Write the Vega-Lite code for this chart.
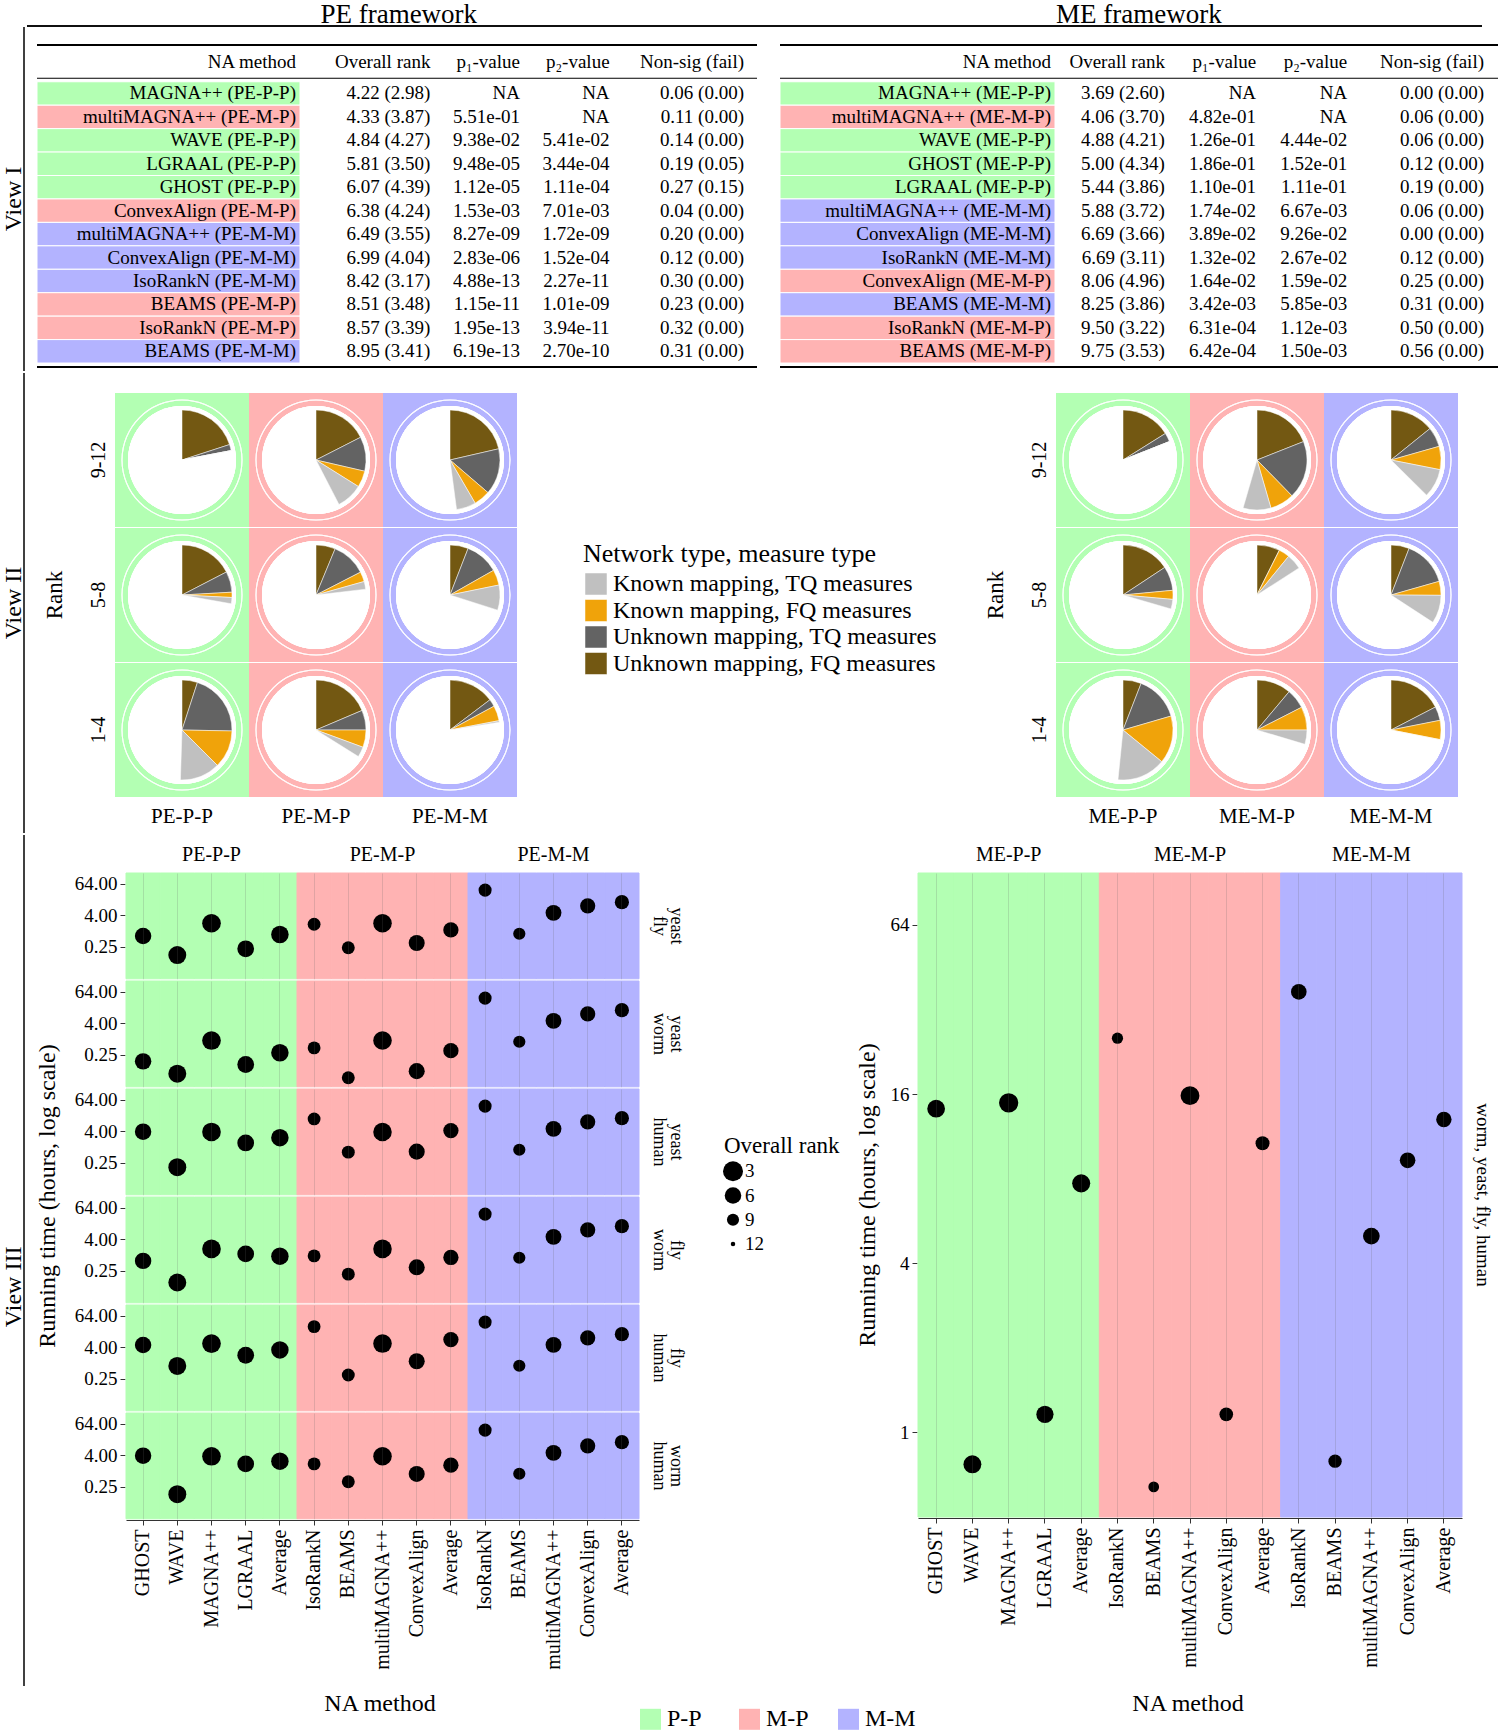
{
  "$schema": "https://vega.github.io/schema/vega-lite/v6.json",
  "padding": 0,
  "spacing": 0,
  "config": {
    "font": "Liberation Serif",
    "view": {"stroke": null},
    "axis": {"labelColor": "black", "titleColor": "black", "titleFontWeight": "normal", "tickColor": "#333", "domainColor": "#333"},
    "header": {"labelColor": "black", "titleColor": "black", "titleFontWeight": "normal"}
  },
  "datasets": {
    "pe_tab": [
      {"m": "MAGNA++ (PE-P-P)", "t": "P-P", "r": "4.22 (2.98)", "p1": "NA", "p2": "NA", "ns": "0.06 (0.00)"},
      {"m": "multiMAGNA++ (PE-M-P)", "t": "M-P", "r": "4.33 (3.87)", "p1": "5.51e-01", "p2": "NA", "ns": "0.11 (0.00)"},
      {"m": "WAVE (PE-P-P)", "t": "P-P", "r": "4.84 (4.27)", "p1": "9.38e-02", "p2": "5.41e-02", "ns": "0.14 (0.00)"},
      {"m": "LGRAAL (PE-P-P)", "t": "P-P", "r": "5.81 (3.50)", "p1": "9.48e-05", "p2": "3.44e-04", "ns": "0.19 (0.05)"},
      {"m": "GHOST (PE-P-P)", "t": "P-P", "r": "6.07 (4.39)", "p1": "1.12e-05", "p2": "1.11e-04", "ns": "0.27 (0.15)"},
      {"m": "ConvexAlign (PE-M-P)", "t": "M-P", "r": "6.38 (4.24)", "p1": "1.53e-03", "p2": "7.01e-03", "ns": "0.04 (0.00)"},
      {"m": "multiMAGNA++ (PE-M-M)", "t": "M-M", "r": "6.49 (3.55)", "p1": "8.27e-09", "p2": "1.72e-09", "ns": "0.20 (0.00)"},
      {"m": "ConvexAlign (PE-M-M)", "t": "M-M", "r": "6.99 (4.04)", "p1": "2.83e-06", "p2": "1.52e-04", "ns": "0.12 (0.00)"},
      {"m": "IsoRankN (PE-M-M)", "t": "M-M", "r": "8.42 (3.17)", "p1": "4.88e-13", "p2": "2.27e-11", "ns": "0.30 (0.00)"},
      {"m": "BEAMS (PE-M-P)", "t": "M-P", "r": "8.51 (3.48)", "p1": "1.15e-11", "p2": "1.01e-09", "ns": "0.23 (0.00)"},
      {"m": "IsoRankN (PE-M-P)", "t": "M-P", "r": "8.57 (3.39)", "p1": "1.95e-13", "p2": "3.94e-11", "ns": "0.32 (0.00)"},
      {"m": "BEAMS (PE-M-M)", "t": "M-M", "r": "8.95 (3.41)", "p1": "6.19e-13", "p2": "2.70e-10", "ns": "0.31 (0.00)"}
    ],
    "me_tab": [
      {"m": "MAGNA++ (ME-P-P)", "t": "P-P", "r": "3.69 (2.60)", "p1": "NA", "p2": "NA", "ns": "0.00 (0.00)"},
      {"m": "multiMAGNA++ (ME-M-P)", "t": "M-P", "r": "4.06 (3.70)", "p1": "4.82e-01", "p2": "NA", "ns": "0.06 (0.00)"},
      {"m": "WAVE (ME-P-P)", "t": "P-P", "r": "4.88 (4.21)", "p1": "1.26e-01", "p2": "4.44e-02", "ns": "0.06 (0.00)"},
      {"m": "GHOST (ME-P-P)", "t": "P-P", "r": "5.00 (4.34)", "p1": "1.86e-01", "p2": "1.52e-01", "ns": "0.12 (0.00)"},
      {"m": "LGRAAL (ME-P-P)", "t": "P-P", "r": "5.44 (3.86)", "p1": "1.10e-01", "p2": "1.11e-01", "ns": "0.19 (0.00)"},
      {"m": "multiMAGNA++ (ME-M-M)", "t": "M-M", "r": "5.88 (3.72)", "p1": "1.74e-02", "p2": "6.67e-03", "ns": "0.06 (0.00)"},
      {"m": "ConvexAlign (ME-M-M)", "t": "M-M", "r": "6.69 (3.66)", "p1": "3.89e-02", "p2": "9.26e-02", "ns": "0.00 (0.00)"},
      {"m": "IsoRankN (ME-M-M)", "t": "M-M", "r": "6.69 (3.11)", "p1": "1.32e-02", "p2": "2.67e-02", "ns": "0.12 (0.00)"},
      {"m": "ConvexAlign (ME-M-P)", "t": "M-P", "r": "8.06 (4.96)", "p1": "1.64e-02", "p2": "1.59e-02", "ns": "0.25 (0.00)"},
      {"m": "BEAMS (ME-M-M)", "t": "M-M", "r": "8.25 (3.86)", "p1": "3.42e-03", "p2": "5.85e-03", "ns": "0.31 (0.00)"},
      {"m": "IsoRankN (ME-M-P)", "t": "M-P", "r": "9.50 (3.22)", "p1": "6.31e-04", "p2": "1.12e-03", "ns": "0.50 (0.00)"},
      {"m": "BEAMS (ME-M-P)", "t": "M-P", "r": "9.75 (3.53)", "p1": "6.42e-04", "p2": "1.50e-03", "ns": "0.56 (0.00)"}
    ],
    "pe_pie": [
      {"nt": "PE-P-P", "t": "P-P", "rk": "9-12", "c": "Unknown mapping, FQ measures", "o": 1, "v": 0.2},
      {"nt": "PE-P-P", "t": "P-P", "rk": "9-12", "c": "Unknown mapping, TQ measures", "o": 2, "v": 0.02},
      {"nt": "PE-P-P", "t": "P-P", "rk": "9-12", "c": "Known mapping, FQ measures", "o": 3, "v": 0},
      {"nt": "PE-P-P", "t": "P-P", "rk": "9-12", "c": "Known mapping, TQ measures", "o": 4, "v": 0},
      {"nt": "PE-M-P", "t": "M-P", "rk": "9-12", "c": "Unknown mapping, FQ measures", "o": 1, "v": 0.175},
      {"nt": "PE-M-P", "t": "M-P", "rk": "9-12", "c": "Unknown mapping, TQ measures", "o": 2, "v": 0.111},
      {"nt": "PE-M-P", "t": "M-P", "rk": "9-12", "c": "Known mapping, FQ measures", "o": 3, "v": 0.053},
      {"nt": "PE-M-P", "t": "M-P", "rk": "9-12", "c": "Known mapping, TQ measures", "o": 4, "v": 0.085},
      {"nt": "PE-M-M", "t": "M-M", "rk": "9-12", "c": "Unknown mapping, FQ measures", "o": 1, "v": 0.214},
      {"nt": "PE-M-M", "t": "M-M", "rk": "9-12", "c": "Unknown mapping, TQ measures", "o": 2, "v": 0.149},
      {"nt": "PE-M-M", "t": "M-M", "rk": "9-12", "c": "Known mapping, FQ measures", "o": 3, "v": 0.053},
      {"nt": "PE-M-M", "t": "M-M", "rk": "9-12", "c": "Known mapping, TQ measures", "o": 4, "v": 0.063},
      {"nt": "PE-P-P", "t": "P-P", "rk": "5-8", "c": "Unknown mapping, FQ measures", "o": 1, "v": 0.174},
      {"nt": "PE-P-P", "t": "P-P", "rk": "5-8", "c": "Unknown mapping, TQ measures", "o": 2, "v": 0.067},
      {"nt": "PE-P-P", "t": "P-P", "rk": "5-8", "c": "Known mapping, FQ measures", "o": 3, "v": 0.017},
      {"nt": "PE-P-P", "t": "P-P", "rk": "5-8", "c": "Known mapping, TQ measures", "o": 4, "v": 0.02},
      {"nt": "PE-M-P", "t": "M-P", "rk": "5-8", "c": "Unknown mapping, FQ measures", "o": 1, "v": 0.0625},
      {"nt": "PE-M-P", "t": "M-P", "rk": "5-8", "c": "Unknown mapping, TQ measures", "o": 2, "v": 0.112},
      {"nt": "PE-M-P", "t": "M-P", "rk": "5-8", "c": "Known mapping, FQ measures", "o": 3, "v": 0.032},
      {"nt": "PE-M-P", "t": "M-P", "rk": "5-8", "c": "Known mapping, TQ measures", "o": 4, "v": 0.025},
      {"nt": "PE-M-M", "t": "M-M", "rk": "5-8", "c": "Unknown mapping, FQ measures", "o": 1, "v": 0.059},
      {"nt": "PE-M-M", "t": "M-M", "rk": "5-8", "c": "Unknown mapping, TQ measures", "o": 2, "v": 0.109},
      {"nt": "PE-M-M", "t": "M-M", "rk": "5-8", "c": "Known mapping, FQ measures", "o": 3, "v": 0.05},
      {"nt": "PE-M-M", "t": "M-M", "rk": "5-8", "c": "Known mapping, TQ measures", "o": 4, "v": 0.081},
      {"nt": "PE-P-P", "t": "P-P", "rk": "1-4", "c": "Unknown mapping, FQ measures", "o": 1, "v": 0.05},
      {"nt": "PE-P-P", "t": "P-P", "rk": "1-4", "c": "Unknown mapping, TQ measures", "o": 2, "v": 0.203},
      {"nt": "PE-P-P", "t": "P-P", "rk": "1-4", "c": "Known mapping, FQ measures", "o": 3, "v": 0.122},
      {"nt": "PE-P-P", "t": "P-P", "rk": "1-4", "c": "Known mapping, TQ measures", "o": 4, "v": 0.13},
      {"nt": "PE-M-P", "t": "M-P", "rk": "1-4", "c": "Unknown mapping, FQ measures", "o": 1, "v": 0.186},
      {"nt": "PE-M-P", "t": "M-P", "rk": "1-4", "c": "Unknown mapping, TQ measures", "o": 2, "v": 0.064},
      {"nt": "PE-M-P", "t": "M-P", "rk": "1-4", "c": "Known mapping, FQ measures", "o": 3, "v": 0.056},
      {"nt": "PE-M-P", "t": "M-P", "rk": "1-4", "c": "Known mapping, TQ measures", "o": 4, "v": 0.033},
      {"nt": "PE-M-M", "t": "M-M", "rk": "1-4", "c": "Unknown mapping, FQ measures", "o": 1, "v": 0.147},
      {"nt": "PE-M-M", "t": "M-M", "rk": "1-4", "c": "Unknown mapping, TQ measures", "o": 2, "v": 0.024},
      {"nt": "PE-M-M", "t": "M-M", "rk": "1-4", "c": "Known mapping, FQ measures", "o": 3, "v": 0.049},
      {"nt": "PE-M-M", "t": "M-M", "rk": "1-4", "c": "Known mapping, TQ measures", "o": 4, "v": 0.005}
    ],
    "me_pie": [
      {"nt": "ME-P-P", "t": "P-P", "rk": "9-12", "c": "Unknown mapping, FQ measures", "o": 1, "v": 0.161},
      {"nt": "ME-P-P", "t": "P-P", "rk": "9-12", "c": "Unknown mapping, TQ measures", "o": 2, "v": 0.029},
      {"nt": "ME-P-P", "t": "P-P", "rk": "9-12", "c": "Known mapping, FQ measures", "o": 3, "v": 0},
      {"nt": "ME-P-P", "t": "P-P", "rk": "9-12", "c": "Known mapping, TQ measures", "o": 4, "v": 0},
      {"nt": "ME-M-P", "t": "M-P", "rk": "9-12", "c": "Unknown mapping, FQ measures", "o": 1, "v": 0.19},
      {"nt": "ME-M-P", "t": "M-P", "rk": "9-12", "c": "Unknown mapping, TQ measures", "o": 2, "v": 0.187},
      {"nt": "ME-M-P", "t": "M-P", "rk": "9-12", "c": "Known mapping, FQ measures", "o": 3, "v": 0.078},
      {"nt": "ME-M-P", "t": "M-P", "rk": "9-12", "c": "Known mapping, TQ measures", "o": 4, "v": 0.09},
      {"nt": "ME-M-M", "t": "M-M", "rk": "9-12", "c": "Unknown mapping, FQ measures", "o": 1, "v": 0.142},
      {"nt": "ME-M-M", "t": "M-M", "rk": "9-12", "c": "Unknown mapping, TQ measures", "o": 2, "v": 0.064},
      {"nt": "ME-M-M", "t": "M-M", "rk": "9-12", "c": "Known mapping, FQ measures", "o": 3, "v": 0.075},
      {"nt": "ME-M-M", "t": "M-M", "rk": "9-12", "c": "Known mapping, TQ measures", "o": 4, "v": 0.093},
      {"nt": "ME-P-P", "t": "P-P", "rk": "5-8", "c": "Unknown mapping, FQ measures", "o": 1, "v": 0.157},
      {"nt": "ME-P-P", "t": "P-P", "rk": "5-8", "c": "Unknown mapping, TQ measures", "o": 2, "v": 0.078},
      {"nt": "ME-P-P", "t": "P-P", "rk": "5-8", "c": "Known mapping, FQ measures", "o": 3, "v": 0.029},
      {"nt": "ME-P-P", "t": "P-P", "rk": "5-8", "c": "Known mapping, TQ measures", "o": 4, "v": 0.031},
      {"nt": "ME-M-P", "t": "M-P", "rk": "5-8", "c": "Unknown mapping, FQ measures", "o": 1, "v": 0.074},
      {"nt": "ME-M-P", "t": "M-P", "rk": "5-8", "c": "Unknown mapping, TQ measures", "o": 2, "v": 0},
      {"nt": "ME-M-P", "t": "M-P", "rk": "5-8", "c": "Known mapping, FQ measures", "o": 3, "v": 0.035},
      {"nt": "ME-M-P", "t": "M-P", "rk": "5-8", "c": "Known mapping, TQ measures", "o": 4, "v": 0.05},
      {"nt": "ME-M-M", "t": "M-M", "rk": "5-8", "c": "Unknown mapping, FQ measures", "o": 1, "v": 0.059},
      {"nt": "ME-M-M", "t": "M-M", "rk": "5-8", "c": "Unknown mapping, TQ measures", "o": 2, "v": 0.147},
      {"nt": "ME-M-M", "t": "M-M", "rk": "5-8", "c": "Known mapping, FQ measures", "o": 3, "v": 0.045},
      {"nt": "ME-M-M", "t": "M-M", "rk": "5-8", "c": "Known mapping, TQ measures", "o": 4, "v": 0.091},
      {"nt": "ME-P-P", "t": "P-P", "rk": "1-4", "c": "Unknown mapping, FQ measures", "o": 1, "v": 0.059},
      {"nt": "ME-P-P", "t": "P-P", "rk": "1-4", "c": "Unknown mapping, TQ measures", "o": 2, "v": 0.146},
      {"nt": "ME-P-P", "t": "P-P", "rk": "1-4", "c": "Known mapping, FQ measures", "o": 3, "v": 0.154},
      {"nt": "ME-P-P", "t": "P-P", "rk": "1-4", "c": "Known mapping, TQ measures", "o": 4, "v": 0.157},
      {"nt": "ME-M-P", "t": "M-P", "rk": "1-4", "c": "Unknown mapping, FQ measures", "o": 1, "v": 0.111},
      {"nt": "ME-M-P", "t": "M-P", "rk": "1-4", "c": "Unknown mapping, TQ measures", "o": 2, "v": 0.064},
      {"nt": "ME-M-P", "t": "M-P", "rk": "1-4", "c": "Known mapping, FQ measures", "o": 3, "v": 0.075},
      {"nt": "ME-M-P", "t": "M-P", "rk": "1-4", "c": "Known mapping, TQ measures", "o": 4, "v": 0.046},
      {"nt": "ME-M-M", "t": "M-M", "rk": "1-4", "c": "Unknown mapping, FQ measures", "o": 1, "v": 0.174},
      {"nt": "ME-M-M", "t": "M-M", "rk": "1-4", "c": "Unknown mapping, TQ measures", "o": 2, "v": 0.045},
      {"nt": "ME-M-M", "t": "M-M", "rk": "1-4", "c": "Known mapping, FQ measures", "o": 3, "v": 0.062},
      {"nt": "ME-M-M", "t": "M-M", "rk": "1-4", "c": "Known mapping, TQ measures", "o": 4, "v": 0}
    ],
    "pe_dot": [
      {"p": "yeast fly", "k": "P-P:GHOST", "g": "P-P", "y": 0.65, "r": 6.07},
      {"p": "yeast fly", "k": "P-P:WAVE", "g": "P-P", "y": 0.12, "r": 4.84},
      {"p": "yeast fly", "k": "P-P:MAGNA++", "g": "P-P", "y": 2.0, "r": 4.22},
      {"p": "yeast fly", "k": "P-P:LGRAAL", "g": "P-P", "y": 0.21, "r": 5.81},
      {"p": "yeast fly", "k": "P-P:Average", "g": "P-P", "y": 0.74, "r": 5.24},
      {"p": "yeast fly", "k": "M-P:IsoRankN", "g": "M-P", "y": 1.83, "r": 8.57},
      {"p": "yeast fly", "k": "M-P:BEAMS", "g": "M-P", "y": 0.23, "r": 8.51},
      {"p": "yeast fly", "k": "M-P:multiMAGNA++", "g": "M-P", "y": 2.0, "r": 4.33},
      {"p": "yeast fly", "k": "M-P:ConvexAlign", "g": "M-P", "y": 0.35, "r": 6.38},
      {"p": "yeast fly", "k": "M-P:Average", "g": "M-P", "y": 1.11, "r": 6.95},
      {"p": "yeast fly", "k": "M-M:IsoRankN", "g": "M-M", "y": 37.3, "r": 8.42},
      {"p": "yeast fly", "k": "M-M:BEAMS", "g": "M-M", "y": 0.79, "r": 8.95},
      {"p": "yeast fly", "k": "M-M:multiMAGNA++", "g": "M-M", "y": 5.0, "r": 6.49},
      {"p": "yeast fly", "k": "M-M:ConvexAlign", "g": "M-M", "y": 9.3, "r": 6.99},
      {"p": "yeast fly", "k": "M-M:Average", "g": "M-M", "y": 12.9, "r": 7.71},
      {"p": "yeast worm", "k": "P-P:GHOST", "g": "P-P", "y": 0.14, "r": 6.07},
      {"p": "yeast worm", "k": "P-P:WAVE", "g": "P-P", "y": 0.047, "r": 4.84},
      {"p": "yeast worm", "k": "P-P:MAGNA++", "g": "P-P", "y": 0.88, "r": 4.22},
      {"p": "yeast worm", "k": "P-P:LGRAAL", "g": "P-P", "y": 0.106, "r": 5.81},
      {"p": "yeast worm", "k": "P-P:Average", "g": "P-P", "y": 0.3, "r": 5.24},
      {"p": "yeast worm", "k": "M-P:IsoRankN", "g": "M-P", "y": 0.46, "r": 8.57},
      {"p": "yeast worm", "k": "M-P:BEAMS", "g": "M-P", "y": 0.033, "r": 8.51},
      {"p": "yeast worm", "k": "M-P:multiMAGNA++", "g": "M-P", "y": 0.88, "r": 4.33},
      {"p": "yeast worm", "k": "M-P:ConvexAlign", "g": "M-P", "y": 0.059, "r": 6.38},
      {"p": "yeast worm", "k": "M-P:Average", "g": "M-P", "y": 0.36, "r": 6.95},
      {"p": "yeast worm", "k": "M-M:IsoRankN", "g": "M-M", "y": 37.3, "r": 8.42},
      {"p": "yeast worm", "k": "M-M:BEAMS", "g": "M-M", "y": 0.79, "r": 8.95},
      {"p": "yeast worm", "k": "M-M:multiMAGNA++", "g": "M-M", "y": 5.0, "r": 6.49},
      {"p": "yeast worm", "k": "M-M:ConvexAlign", "g": "M-M", "y": 9.3, "r": 6.99},
      {"p": "yeast worm", "k": "M-M:Average", "g": "M-M", "y": 12.9, "r": 7.71},
      {"p": "yeast human", "k": "P-P:GHOST", "g": "P-P", "y": 3.9, "r": 6.07},
      {"p": "yeast human", "k": "P-P:WAVE", "g": "P-P", "y": 0.17, "r": 4.84},
      {"p": "yeast human", "k": "P-P:MAGNA++", "g": "P-P", "y": 3.8, "r": 4.22},
      {"p": "yeast human", "k": "P-P:LGRAAL", "g": "P-P", "y": 1.44, "r": 5.81},
      {"p": "yeast human", "k": "P-P:Average", "g": "P-P", "y": 2.3, "r": 5.24},
      {"p": "yeast human", "k": "M-P:IsoRankN", "g": "M-P", "y": 12, "r": 8.57},
      {"p": "yeast human", "k": "M-P:BEAMS", "g": "M-P", "y": 0.64, "r": 8.51},
      {"p": "yeast human", "k": "M-P:multiMAGNA++", "g": "M-P", "y": 3.8, "r": 4.33},
      {"p": "yeast human", "k": "M-P:ConvexAlign", "g": "M-P", "y": 0.67, "r": 6.38},
      {"p": "yeast human", "k": "M-P:Average", "g": "M-P", "y": 4.3, "r": 6.95},
      {"p": "yeast human", "k": "M-M:IsoRankN", "g": "M-M", "y": 37.3, "r": 8.42},
      {"p": "yeast human", "k": "M-M:BEAMS", "g": "M-M", "y": 0.79, "r": 8.95},
      {"p": "yeast human", "k": "M-M:multiMAGNA++", "g": "M-M", "y": 5.0, "r": 6.49},
      {"p": "yeast human", "k": "M-M:ConvexAlign", "g": "M-M", "y": 9.3, "r": 6.99},
      {"p": "yeast human", "k": "M-M:Average", "g": "M-M", "y": 12.9, "r": 7.71},
      {"p": "fly worm", "k": "P-P:GHOST", "g": "P-P", "y": 0.6, "r": 6.07},
      {"p": "fly worm", "k": "P-P:WAVE", "g": "P-P", "y": 0.089, "r": 4.84},
      {"p": "fly worm", "k": "P-P:MAGNA++", "g": "P-P", "y": 1.73, "r": 4.22},
      {"p": "fly worm", "k": "P-P:LGRAAL", "g": "P-P", "y": 1.11, "r": 5.81},
      {"p": "fly worm", "k": "P-P:Average", "g": "P-P", "y": 0.91, "r": 5.24},
      {"p": "fly worm", "k": "M-P:IsoRankN", "g": "M-P", "y": 0.93, "r": 8.57},
      {"p": "fly worm", "k": "M-P:BEAMS", "g": "M-P", "y": 0.186, "r": 8.51},
      {"p": "fly worm", "k": "M-P:multiMAGNA++", "g": "M-P", "y": 1.73, "r": 4.33},
      {"p": "fly worm", "k": "M-P:ConvexAlign", "g": "M-P", "y": 0.34, "r": 6.38},
      {"p": "fly worm", "k": "M-P:Average", "g": "M-P", "y": 0.81, "r": 6.95},
      {"p": "fly worm", "k": "M-M:IsoRankN", "g": "M-M", "y": 37.3, "r": 8.42},
      {"p": "fly worm", "k": "M-M:BEAMS", "g": "M-M", "y": 0.79, "r": 8.95},
      {"p": "fly worm", "k": "M-M:multiMAGNA++", "g": "M-M", "y": 5.0, "r": 6.49},
      {"p": "fly worm", "k": "M-M:ConvexAlign", "g": "M-M", "y": 9.3, "r": 6.99},
      {"p": "fly worm", "k": "M-M:Average", "g": "M-M", "y": 12.9, "r": 7.71},
      {"p": "fly human", "k": "P-P:GHOST", "g": "P-P", "y": 4.96, "r": 6.07},
      {"p": "fly human", "k": "P-P:WAVE", "g": "P-P", "y": 0.78, "r": 4.84},
      {"p": "fly human", "k": "P-P:MAGNA++", "g": "P-P", "y": 5.6, "r": 4.22},
      {"p": "fly human", "k": "P-P:LGRAAL", "g": "P-P", "y": 2.0, "r": 5.81},
      {"p": "fly human", "k": "P-P:Average", "g": "P-P", "y": 3.2, "r": 5.24},
      {"p": "fly human", "k": "M-P:IsoRankN", "g": "M-P", "y": 25, "r": 8.57},
      {"p": "fly human", "k": "M-P:BEAMS", "g": "M-P", "y": 0.35, "r": 8.51},
      {"p": "fly human", "k": "M-P:multiMAGNA++", "g": "M-P", "y": 5.6, "r": 4.33},
      {"p": "fly human", "k": "M-P:ConvexAlign", "g": "M-P", "y": 1.18, "r": 6.38},
      {"p": "fly human", "k": "M-P:Average", "g": "M-P", "y": 8.0, "r": 6.95},
      {"p": "fly human", "k": "M-M:IsoRankN", "g": "M-M", "y": 37.3, "r": 8.42},
      {"p": "fly human", "k": "M-M:BEAMS", "g": "M-M", "y": 0.79, "r": 8.95},
      {"p": "fly human", "k": "M-M:multiMAGNA++", "g": "M-M", "y": 5.0, "r": 6.49},
      {"p": "fly human", "k": "M-M:ConvexAlign", "g": "M-M", "y": 9.3, "r": 6.99},
      {"p": "fly human", "k": "M-M:Average", "g": "M-M", "y": 12.9, "r": 7.71},
      {"p": "worm human", "k": "P-P:GHOST", "g": "P-P", "y": 3.9, "r": 6.07},
      {"p": "worm human", "k": "P-P:WAVE", "g": "P-P", "y": 0.13, "r": 4.84},
      {"p": "worm human", "k": "P-P:MAGNA++", "g": "P-P", "y": 3.7, "r": 4.22},
      {"p": "worm human", "k": "P-P:LGRAAL", "g": "P-P", "y": 1.89, "r": 5.81},
      {"p": "worm human", "k": "P-P:Average", "g": "P-P", "y": 2.4, "r": 5.24},
      {"p": "worm human", "k": "M-P:IsoRankN", "g": "M-P", "y": 1.89, "r": 8.57},
      {"p": "worm human", "k": "M-P:BEAMS", "g": "M-P", "y": 0.39, "r": 8.51},
      {"p": "worm human", "k": "M-P:multiMAGNA++", "g": "M-P", "y": 3.7, "r": 4.33},
      {"p": "worm human", "k": "M-P:ConvexAlign", "g": "M-P", "y": 0.78, "r": 6.38},
      {"p": "worm human", "k": "M-P:Average", "g": "M-P", "y": 1.68, "r": 6.95},
      {"p": "worm human", "k": "M-M:IsoRankN", "g": "M-M", "y": 37.3, "r": 8.42},
      {"p": "worm human", "k": "M-M:BEAMS", "g": "M-M", "y": 0.79, "r": 8.95},
      {"p": "worm human", "k": "M-M:multiMAGNA++", "g": "M-M", "y": 5.0, "r": 6.49},
      {"p": "worm human", "k": "M-M:ConvexAlign", "g": "M-M", "y": 9.3, "r": 6.99},
      {"p": "worm human", "k": "M-M:Average", "g": "M-M", "y": 12.9, "r": 7.71}
    ],
    "me_dot": [
      {"p": "worm, yeast, fly, human", "k": "P-P:GHOST", "g": "P-P", "y": 14.2, "r": 5.0},
      {"p": "worm, yeast, fly, human", "k": "P-P:WAVE", "g": "P-P", "y": 0.77, "r": 4.88},
      {"p": "worm, yeast, fly, human", "k": "P-P:MAGNA++", "g": "P-P", "y": 14.9, "r": 3.69},
      {"p": "worm, yeast, fly, human", "k": "P-P:LGRAAL", "g": "P-P", "y": 1.16, "r": 5.44},
      {"p": "worm, yeast, fly, human", "k": "P-P:Average", "g": "P-P", "y": 7.7, "r": 4.75},
      {"p": "worm, yeast, fly, human", "k": "M-P:IsoRankN", "g": "M-P", "y": 25.3, "r": 9.5},
      {"p": "worm, yeast, fly, human", "k": "M-P:BEAMS", "g": "M-P", "y": 0.64, "r": 9.75},
      {"p": "worm, yeast, fly, human", "k": "M-P:multiMAGNA++", "g": "M-P", "y": 15.8, "r": 4.06},
      {"p": "worm, yeast, fly, human", "k": "M-P:ConvexAlign", "g": "M-P", "y": 1.16, "r": 8.06},
      {"p": "worm, yeast, fly, human", "k": "M-P:Average", "g": "M-P", "y": 10.7, "r": 7.84},
      {"p": "worm, yeast, fly, human", "k": "M-M:IsoRankN", "g": "M-M", "y": 37, "r": 6.69},
      {"p": "worm, yeast, fly, human", "k": "M-M:BEAMS", "g": "M-M", "y": 0.79, "r": 8.25},
      {"p": "worm, yeast, fly, human", "k": "M-M:multiMAGNA++", "g": "M-M", "y": 5.0, "r": 5.88},
      {"p": "worm, yeast, fly, human", "k": "M-M:ConvexAlign", "g": "M-M", "y": 9.3, "r": 6.69},
      {"p": "worm, yeast, fly, human", "k": "M-M:Average", "g": "M-M", "y": 13, "r": 6.88}
    ]
  },
  "hconcat": [
    {
      "spacing": 0,
      "vconcat": [
        {"width": 24, "height": 26, "data": {"values": [{}]}, "mark": {"type": "text", "text": ""}, "encoding": {}},
        {"width": 24, "height": 344, "data": {"values": [{"v": "View I"}]},
         "layer": [
           {"mark": {"type": "rule", "color": "black", "strokeWidth": 1.5}, "encoding": {"x": {"value": "width"}}},
           {"mark": {"type": "text", "angle": 270, "fontSize": 24, "baseline": "middle", "align": "center", "dy": 1.5}, "encoding": {"text": {"field": "v"}}}
         ]},
        {"width": 24, "height": 460, "data": {"values": [{"v": "View II"}]},
         "layer": [
           {"mark": {"type": "rule", "color": "black", "strokeWidth": 1.5}, "encoding": {"x": {"value": "width"}}},
           {"mark": {"type": "text", "angle": 270, "fontSize": 24, "baseline": "middle", "align": "center", "dy": 1.5}, "encoding": {"text": {"field": "v"}}}
         ]},
        {"width": 24, "height": 851, "data": {"values": [{"v": "View III"}]},
         "layer": [
           {"mark": {"type": "rule", "color": "black", "strokeWidth": 1.5}, "encoding": {"x": {"value": "width"}}},
           {"mark": {"type": "text", "angle": 270, "fontSize": 24, "baseline": "middle", "align": "center", "dy": 1.5},
            "encoding": {"y": {"field": "v", "type": "nominal", "scale": {"type": "band", "paddingInner": 0, "paddingOuter": 0.5, "align": 0.562}, "axis": null}, "text": {"field": "v"}}}
         ]}
      ]
    },
    {
      "spacing": 0,
      "vconcat": [
        {"width": 1455, "height": 26, "data": {"values": [{"fw": "PE framework"}, {"fw": "ME framework"}]},
         "layer": [
           {"mark": {"type": "rule", "color": "black", "strokeWidth": 1.5}, "encoding": {"y": {"value": "height"}}},
           {"mark": {"type": "text", "fontSize": 27, "baseline": "middle", "dy": 1.5},
            "encoding": {"x": {"field": "fw", "type": "nominal", "sort": ["PE framework", "ME framework"], "scale": {"type": "point", "padding": 0.483, "align": 0.52}, "axis": null}, "text": {"field": "fw"}}}
         ]},
        {"width": 10, "height": 15.6, "data": {"values": [{}]}, "mark": {"type": "text", "text": ""}, "encoding": {}},
        {
          "spacing": 0,
          "hconcat": [
            {"width": 9, "height": 322, "data": {"values": [{}]}, "mark": {"type": "text", "text": ""}, "encoding": {}},
            {
              "width": 720, "height": 322,
              "data": {"name": "pe_tab"},
              "layer": [
                {"mark": {"type": "rect", "stroke": "white", "strokeWidth": 1},
                 "encoding": {
                   "y": {"field": "m", "type": "nominal", "scale": {"type": "band", "domain": ["NA method", "MAGNA++ (PE-P-P)", "multiMAGNA++ (PE-M-P)", "WAVE (PE-P-P)", "LGRAAL (PE-P-P)", "GHOST (PE-P-P)", "ConvexAlign (PE-M-P)", "multiMAGNA++ (PE-M-M)", "ConvexAlign (PE-M-M)", "IsoRankN (PE-M-M)", "BEAMS (PE-M-P)", "IsoRankN (PE-M-P)", "BEAMS (PE-M-M)"], "paddingInner": 0, "paddingOuter": 0.369, "align": 0.77}, "axis": null},
                   "x": {"datum": "m", "type": "nominal", "scale": {"type": "point", "domain": ["m", "x1", "x2", "x3", "x4", "x5", "r", "x6", "x7", "x8", "p1", "x9", "x10", "x11", "p2", "x12", "x13", "x14", "x15", "x16", "ns"], "range": [263, 711], "padding": 0}, "axis": null},
                   "x2": {"value": 0},
                   "fill": {"field": "t", "type": "nominal", "scale": {"domain": ["P-P", "M-P", "M-M"], "range": ["#B3FFB3", "#FFB3B3", "#B3B3FF"]}, "legend": null}
                 }},
                {"transform": [{"fold": ["m", "r", "p1", "p2", "ns"], "as": ["col", "txt"]}],
                 "mark": {"type": "text", "align": "right", "baseline": "middle", "dx": -4, "fontSize": 19},
                 "encoding": {"y": {"field": "m", "type": "nominal", "axis": null}, "x": {"field": "col", "type": "nominal", "axis": null}, "text": {"field": "txt"}}},
                {"data": {"values": [{"col": "m", "txt": "NA method"}, {"col": "r", "txt": "Overall rank"}, {"col": "p1", "txt": "p₁-value"}, {"col": "p2", "txt": "p₂-value"}, {"col": "ns", "txt": "Non-sig (fail)"}]},
                 "mark": {"type": "text", "align": "right", "baseline": "middle", "dx": -4, "dy": -8, "fontSize": 19},
                 "encoding": {"y": {"datum": "NA method", "type": "nominal"}, "x": {"field": "col", "type": "nominal"}, "text": {"field": "txt"}}},
                {"data": {"values": [{}]}, "mark": {"type": "rule", "strokeWidth": 2, "color": "black"}, "encoding": {"y": {"value": 0}}},
                {"data": {"values": [{}]}, "mark": {"type": "rule", "strokeWidth": 1, "color": "black", "yOffset": -3.5}, "encoding": {"y": {"datum": "NA method", "type": "nominal", "bandPosition": 1}}},
                {"data": {"values": [{}]}, "mark": {"type": "rule", "strokeWidth": 2, "color": "black"}, "encoding": {"y": {"value": "height"}}}
              ]
            },
            {"width": 21, "height": 322, "data": {"values": [{}]}, "mark": {"type": "text", "text": ""}, "encoding": {}},
            {
              "width": 718, "height": 322,
              "data": {"name": "me_tab"},
              "layer": [
                {"mark": {"type": "rect", "stroke": "white", "strokeWidth": 1},
                 "encoding": {
                   "y": {"field": "m", "type": "nominal", "scale": {"type": "band", "domain": ["NA method", "MAGNA++ (ME-P-P)", "multiMAGNA++ (ME-M-P)", "WAVE (ME-P-P)", "GHOST (ME-P-P)", "LGRAAL (ME-P-P)", "multiMAGNA++ (ME-M-M)", "ConvexAlign (ME-M-M)", "IsoRankN (ME-M-M)", "ConvexAlign (ME-M-P)", "BEAMS (ME-M-M)", "IsoRankN (ME-M-P)", "BEAMS (ME-M-P)"], "paddingInner": 0, "paddingOuter": 0.369, "align": 0.77}, "axis": null},
                   "x": {"datum": "m", "type": "nominal", "scale": {"type": "point", "domain": ["m", "x1", "x2", "x3", "x4", "r", "x5", "x6", "x7", "p1", "x8", "x9", "x10", "p2", "x11", "x12", "x13", "x14", "x15", "ns"], "range": [275, 708], "padding": 0}, "axis": null},
                   "x2": {"value": 0},
                   "fill": {"field": "t", "type": "nominal", "scale": {"domain": ["P-P", "M-P", "M-M"], "range": ["#B3FFB3", "#FFB3B3", "#B3B3FF"]}, "legend": null}
                 }},
                {"transform": [{"fold": ["m", "r", "p1", "p2", "ns"], "as": ["col", "txt"]}],
                 "mark": {"type": "text", "align": "right", "baseline": "middle", "dx": -4, "fontSize": 19},
                 "encoding": {"y": {"field": "m", "type": "nominal", "axis": null}, "x": {"field": "col", "type": "nominal", "axis": null}, "text": {"field": "txt"}}},
                {"data": {"values": [{"col": "m", "txt": "NA method"}, {"col": "r", "txt": "Overall rank"}, {"col": "p1", "txt": "p₁-value"}, {"col": "p2", "txt": "p₂-value"}, {"col": "ns", "txt": "Non-sig (fail)"}]},
                 "mark": {"type": "text", "align": "right", "baseline": "middle", "dx": -4, "dy": -8, "fontSize": 19},
                 "encoding": {"y": {"datum": "NA method", "type": "nominal"}, "x": {"field": "col", "type": "nominal"}, "text": {"field": "txt"}}},
                {"data": {"values": [{}]}, "mark": {"type": "rule", "strokeWidth": 2, "color": "black"}, "encoding": {"y": {"value": 0}}},
                {"data": {"values": [{}]}, "mark": {"type": "rule", "strokeWidth": 1, "color": "black", "yOffset": -3.5}, "encoding": {"y": {"datum": "NA method", "type": "nominal", "bandPosition": 1}}},
                {"data": {"values": [{}]}, "mark": {"type": "rule", "strokeWidth": 2, "color": "black"}, "encoding": {"y": {"value": "height"}}}
              ]
            }
          ]
        },
        {"width": 10, "height": 24.4, "data": {"values": [{}]}, "mark": {"type": "text", "text": ""}, "encoding": {}},
        {
          "spacing": 0,
          "hconcat": [
            {"width": 16, "height": 403, "data": {"values": [{}]}, "mark": {"type": "text", "text": ""}, "encoding": {}},
            {
              "data": {"name": "pe_pie"},
              "facet": {
                "row": {"field": "rk", "type": "nominal", "sort": ["9-12", "5-8", "1-4"], "title": "Rank", "header": {"labelOrient": "left", "titleOrient": "left", "labelFontSize": 20, "titleFontSize": 23, "labelPadding": 6, "titlePadding": 12.4}},
                "column": {"field": "nt", "type": "nominal", "sort": ["PE-P-P", "PE-M-P", "PE-M-M"], "title": null, "header": {"labelOrient": "bottom", "labelFontSize": 21, "labelPadding": 9}}
              },
              "spacing": {"row": 1, "column": 0},
              "spec": {
                "width": 134, "height": 134,
                "layer": [
                  {"mark": {"type": "rect"}, "encoding": {"x": {"value": 0}, "x2": {"value": "width"}, "y": {"value": 0}, "y2": {"value": "height"}, "fill": {"field": "t", "type": "nominal", "scale": {"domain": ["P-P", "M-P", "M-M"], "range": ["#B3FFB3", "#FFB3B3", "#B3B3FF"]}, "legend": null}}},
                  {"mark": {"type": "arc", "theta": 0, "theta2": 6.2832, "radius": 60.5, "radius2": 59.5, "fill": "white", "opacity": 0.55}, "encoding": {}},
                  {"mark": {"type": "arc", "theta": 0, "theta2": 6.2832, "radius": 54, "fill": "white"}, "encoding": {}},
                  {"mark": {"type": "arc", "radius": 50, "stroke": "white", "strokeWidth": 0.5},
                   "encoding": {
                     "theta": {"field": "v", "type": "quantitative", "stack": true, "scale": {"domain": [0, 1]}},
                     "order": {"field": "o", "type": "quantitative"},
                     "color": {"field": "c", "type": "nominal", "scale": {"domain": ["Known mapping, TQ measures", "Known mapping, FQ measures", "Unknown mapping, TQ measures", "Unknown mapping, FQ measures"], "range": ["#C0C0C0", "#F0A30A", "#636363", "#735812"]}, "legend": null}
                   }}
                ]
              }
            },
            {"width": 66, "height": 403, "data": {"values": [{}]}, "mark": {"type": "text", "text": ""}, "encoding": {}},
            {
              "width": 360, "height": 403,
              "data": {"values": [{"k": "Known mapping, TQ measures"}, {"k": "Known mapping, FQ measures"}, {"k": "Unknown mapping, TQ measures"}, {"k": "Unknown mapping, FQ measures"}]},
              "layer": [
                {"mark": {"type": "square", "size": 484, "opacity": 1, "xOffset": 13, "stroke": "white", "strokeWidth": 0.5},
                 "encoding": {"x": {"value": 0}, "y": {"field": "k", "type": "nominal", "scale": {"type": "band", "domain": ["title", "Known mapping, TQ measures", "Known mapping, FQ measures", "Unknown mapping, TQ measures", "Unknown mapping, FQ measures"], "paddingInner": 0, "paddingOuter": 0, "range": [151.25, 283.75]}, "axis": null},
                   "color": {"field": "k", "type": "nominal", "scale": {"domain": ["Known mapping, TQ measures", "Known mapping, FQ measures", "Unknown mapping, TQ measures", "Unknown mapping, FQ measures"], "range": ["#C0C0C0", "#F0A30A", "#636363", "#735812"]}, "legend": null}}},
                {"mark": {"type": "text", "align": "left", "baseline": "middle", "dx": 30, "fontSize": 24},
                 "encoding": {"x": {"value": 0}, "y": {"field": "k", "type": "nominal"}, "text": {"field": "k"}}},
                {"data": {"values": [{"h": "Network type, measure type"}]},
                 "mark": {"type": "text", "align": "left", "baseline": "middle", "fontSize": 26, "dy": -4},
                 "encoding": {"x": {"value": 0}, "y": {"datum": "title", "type": "nominal"}, "text": {"field": "h"}}}
              ]
            },
            {"width": 41, "height": 403, "data": {"values": [{}]}, "mark": {"type": "text", "text": ""}, "encoding": {}},
            {
              "data": {"name": "me_pie"},
              "facet": {
                "row": {"field": "rk", "type": "nominal", "sort": ["9-12", "5-8", "1-4"], "title": "Rank", "header": {"labelOrient": "left", "titleOrient": "left", "labelFontSize": 20, "titleFontSize": 23, "labelPadding": 6, "titlePadding": 12.4}},
                "column": {"field": "nt", "type": "nominal", "sort": ["ME-P-P", "ME-M-P", "ME-M-M"], "title": null, "header": {"labelOrient": "bottom", "labelFontSize": 21, "labelPadding": 9}}
              },
              "spacing": {"row": 1, "column": 0},
              "spec": {
                "width": 134, "height": 134,
                "layer": [
                  {"mark": {"type": "rect"}, "encoding": {"x": {"value": 0}, "x2": {"value": "width"}, "y": {"value": 0}, "y2": {"value": "height"}, "fill": {"field": "t", "type": "nominal", "scale": {"domain": ["P-P", "M-P", "M-M"], "range": ["#B3FFB3", "#FFB3B3", "#B3B3FF"]}, "legend": null}}},
                  {"mark": {"type": "arc", "theta": 0, "theta2": 6.2832, "radius": 60.5, "radius2": 59.5, "fill": "white", "opacity": 0.55}, "encoding": {}},
                  {"mark": {"type": "arc", "theta": 0, "theta2": 6.2832, "radius": 54, "fill": "white"}, "encoding": {}},
                  {"mark": {"type": "arc", "radius": 50, "stroke": "white", "strokeWidth": 0.5},
                   "encoding": {
                     "theta": {"field": "v", "type": "quantitative", "stack": true, "scale": {"domain": [0, 1]}},
                     "order": {"field": "o", "type": "quantitative"},
                     "color": {"field": "c", "type": "nominal", "scale": {"domain": ["Known mapping, TQ measures", "Known mapping, FQ measures", "Unknown mapping, TQ measures", "Unknown mapping, FQ measures"], "range": ["#C0C0C0", "#F0A30A", "#636363", "#735812"]}, "legend": null}
                   }}
                ]
              }
            }
          ]
        },
        {"width": 10, "height": 17, "data": {"values": [{}]}, "mark": {"type": "text", "text": ""}, "encoding": {}},
        {
          "spacing": 0,
          "hconcat": [
            {"width": 8, "height": 600, "data": {"values": [{}]}, "mark": {"type": "text", "text": ""}, "encoding": {}},
            {
              "data": {"name": "pe_dot"},
              "facet": {
                "row": {"field": "p", "type": "nominal", "sort": ["yeast fly", "yeast worm", "yeast human", "fly worm", "fly human", "worm human"], "title": "Running time (hours, log scale)",
                        "header": {"labelOrient": "right", "labelAngle": 90, "labelFontSize": 18, "labelLineHeight": 17, "labelExpr": "split(datum.value, ' ')", "labelPadding": 10, "titleOrient": "left", "titleFontSize": 24, "titlePadding": 4.5}}
              },
              "spacing": 0,
              "spec": {
                "width": 513, "height": 105.8,
                "layer": [
                  {"mark": {"type": "rect", "strokeWidth": 1},
                   "encoding": {
                     "x": {"field": "k", "type": "nominal", "scale": {"type": "band", "domain": ["P-P:GHOST", "P-P:WAVE", "P-P:MAGNA++", "P-P:LGRAAL", "P-P:Average", "M-P:IsoRankN", "M-P:BEAMS", "M-P:multiMAGNA++", "M-P:ConvexAlign", "M-P:Average", "M-M:IsoRankN", "M-M:BEAMS", "M-M:multiMAGNA++", "M-M:ConvexAlign", "M-M:Average"], "paddingInner": 0, "paddingOuter": 0},
                           "axis": {"orient": "top", "title": null, "ticks": false, "domain": false, "grid": false, "labelAngle": 0, "labelFontSize": 20, "labelPadding": 8, "values": ["P-P:MAGNA++", "M-P:multiMAGNA++", "M-M:multiMAGNA++"], "labelExpr": "'PE-' + split(datum.value, ':')[0]"}},
                     "y": {"value": 0}, "y2": {"value": "height"},
                     "fill": {"field": "g", "type": "nominal", "scale": {"domain": ["P-P", "M-P", "M-M"], "range": ["#B3FFB3", "#FFB3B3", "#B3B3FF"]}, "legend": null},
                     "stroke": {"field": "g", "type": "nominal", "scale": {"domain": ["P-P", "M-P", "M-M"], "range": ["#B3FFB3", "#FFB3B3", "#B3B3FF"]}, "legend": null}
                   }},
                  {"mark": {"type": "circle", "color": "black", "opacity": 1},
                   "encoding": {
                     "x": {"field": "k", "type": "nominal", "axis": {"orient": "bottom", "title": null, "labelAngle": -90, "labelFontSize": 20, "labelPadding": 4, "labelExpr": "split(datum.value, ':')[1]", "tickSize": 5, "grid": true, "gridColor": "#666", "gridOpacity": 0.2, "zindex": 1, "labelOverlap": false}},
                     "y": {"field": "y", "type": "quantitative", "scale": {"type": "log", "base": 2, "domain": [0.0148, 169], "nice": false}, "axis": {"title": null, "values": [0.25, 4, 64], "format": ".2f", "labelFontSize": 19, "tickSize": 5, "domain": false, "grid": false, "labelPadding": 3}},
                     "size": {"field": "r", "type": "quantitative", "scale": {"domain": [3, 12], "range": [400, 20]}, "legend": null}
                   }}
                ]
              }
            },
            {"width": 38, "height": 600, "data": {"values": [{}]}, "mark": {"type": "text", "text": ""}, "encoding": {}},
            {
              "width": 110, "height": 600,
              "data": {"values": [{"l": "3", "r": 3}, {"l": "6", "r": 6}, {"l": "9", "r": 9}, {"l": "12", "r": 12}]},
              "layer": [
                {"mark": {"type": "circle", "color": "black", "opacity": 1, "xOffset": 9},
                 "encoding": {"x": {"value": 0}, "y": {"field": "l", "type": "nominal", "scale": {"type": "band", "domain": ["title", "3", "6", "9", "12"], "paddingInner": 0, "paddingOuter": 0, "range": [262, 383]}, "axis": null},
                   "size": {"field": "r", "type": "quantitative", "scale": {"domain": [3, 12], "range": [400, 20]}, "legend": null}}},
                {"mark": {"type": "text", "align": "left", "baseline": "middle", "dx": 21, "fontSize": 19},
                 "encoding": {"x": {"value": 0}, "y": {"field": "l", "type": "nominal"}, "text": {"field": "l"}}},
                {"data": {"values": [{"h": "Overall rank"}]},
                 "mark": {"type": "text", "align": "left", "baseline": "middle", "fontSize": 23, "dy": -1},
                 "encoding": {"x": {"value": 0}, "y": {"datum": "title", "type": "nominal"}, "text": {"field": "h"}}}
              ]
            },
            {"width": 14.5, "height": 600, "data": {"values": [{}]}, "mark": {"type": "text", "text": ""}, "encoding": {}},
            {
              "data": {"name": "me_dot"},
              "facet": {
                "row": {"field": "p", "type": "nominal", "title": "Running time (hours, log scale)",
                        "header": {"labelOrient": "right", "labelAngle": 90, "labelFontSize": 19, "labelPadding": 10, "titleOrient": "left", "titleFontSize": 24, "titlePadding": 0}}
              },
              "spacing": 0,
              "spec": {
                "width": 544, "height": 644,
                "layer": [
                  {"mark": {"type": "rect", "strokeWidth": 1},
                   "encoding": {
                     "x": {"field": "k", "type": "nominal", "scale": {"type": "band", "domain": ["P-P:GHOST", "P-P:WAVE", "P-P:MAGNA++", "P-P:LGRAAL", "P-P:Average", "M-P:IsoRankN", "M-P:BEAMS", "M-P:multiMAGNA++", "M-P:ConvexAlign", "M-P:Average", "M-M:IsoRankN", "M-M:BEAMS", "M-M:multiMAGNA++", "M-M:ConvexAlign", "M-M:Average"], "paddingInner": 0, "paddingOuter": 0},
                           "axis": {"orient": "top", "title": null, "ticks": false, "domain": false, "grid": false, "labelAngle": 0, "labelFontSize": 20, "labelPadding": 8, "values": ["P-P:MAGNA++", "M-P:multiMAGNA++", "M-M:multiMAGNA++"], "labelExpr": "'ME-' + split(datum.value, ':')[0]"}},
                     "y": {"value": 0}, "y2": {"value": "height"},
                     "fill": {"field": "g", "type": "nominal", "scale": {"domain": ["P-P", "M-P", "M-M"], "range": ["#B3FFB3", "#FFB3B3", "#B3B3FF"]}, "legend": null},
                     "stroke": {"field": "g", "type": "nominal", "scale": {"domain": ["P-P", "M-P", "M-M"], "range": ["#B3FFB3", "#FFB3B3", "#B3B3FF"]}, "legend": null}
                   }},
                  {"mark": {"type": "circle", "color": "black", "opacity": 1},
                   "encoding": {
                     "x": {"field": "k", "type": "nominal", "axis": {"orient": "bottom", "title": null, "labelAngle": -90, "labelFontSize": 20, "labelPadding": 4, "labelExpr": "split(datum.value, ':')[1]", "tickSize": 5, "grid": true, "gridColor": "#666", "gridOpacity": 0.2, "zindex": 1, "labelOverlap": false}},
                     "y": {"field": "y", "type": "quantitative", "scale": {"type": "log", "base": 2, "domain": [0.5, 98], "nice": false}, "axis": {"title": null, "values": [1, 4, 16, 64], "format": "d", "labelFontSize": 19, "tickSize": 5, "domain": false, "grid": false, "labelPadding": 3}},
                     "size": {"field": "r", "type": "quantitative", "scale": {"domain": [3, 12], "range": [400, 20]}, "legend": null}
                   }}
                ]
              }
            }
          ]
        },
        {
          "spacing": 0,
          "hconcat": [
            {"width": 253, "height": 68, "data": {"values": [{}]}, "mark": {"type": "text", "text": ""}, "encoding": {}},
            {"width": 200, "height": 68, "data": {"values": [{"t": "NA method"}]}, "mark": {"type": "text", "fontSize": 24, "baseline": "middle", "align": "center"}, "encoding": {"text": {"field": "t"}}},
            {"width": 159.5, "height": 68, "data": {"values": [{}]}, "mark": {"type": "text", "text": ""}, "encoding": {}},
            {
              "width": 297, "height": 98.6,
              "data": {"values": [{"g": "P-P"}, {"g": "M-P"}, {"g": "M-M"}]},
              "layer": [
                {"mark": {"type": "square", "size": 441, "opacity": 1, "xOffset": 10.5},
                 "encoding": {"x": {"field": "g", "type": "nominal", "sort": ["P-P", "M-P", "M-M"], "bandPosition": 0, "scale": {"type": "band", "paddingInner": 0, "paddingOuter": 0}, "axis": null},
                   "fill": {"field": "g", "type": "nominal", "scale": {"domain": ["P-P", "M-P", "M-M"], "range": ["#B3FFB3", "#FFB3B3", "#B3B3FF"]}, "legend": null}}},
                {"mark": {"type": "text", "align": "left", "baseline": "middle", "dx": 27, "fontSize": 24},
                 "encoding": {"x": {"field": "g", "type": "nominal", "sort": ["P-P", "M-P", "M-M"], "bandPosition": 0}, "text": {"field": "g"}}}
              ]
            },
            {"width": 151, "height": 68, "data": {"values": [{}]}, "mark": {"type": "text", "text": ""}, "encoding": {}},
            {"width": 200, "height": 68, "data": {"values": [{"t": "NA method"}]}, "mark": {"type": "text", "fontSize": 24, "baseline": "middle", "align": "center"}, "encoding": {"text": {"field": "t"}}}
          ]
        }
      ]
    }
  ]
}
